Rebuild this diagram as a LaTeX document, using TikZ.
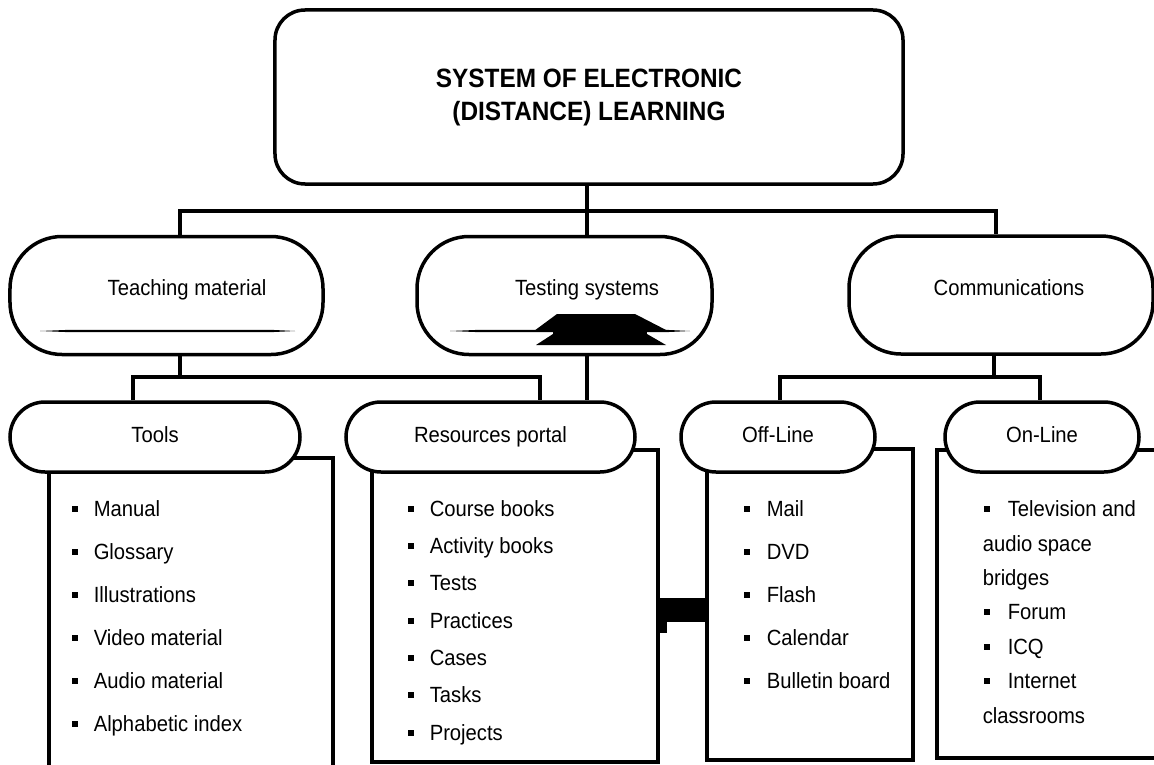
\documentclass[tikz,border=0pt]{standalone}
\usepackage{fontspec}
\setmainfont{Liberation Sans}[FakeStretch=0.92]
\newcommand{\blt}{\rule[4.5bp]{6bp}{6bp}}
\begin{document}
\begin{tikzpicture}[x=1bp,y=-1bp,line width=3.5bp,line join=miter,
  txt/.style={font=\fontsize{22bp}{26bp}\selectfont},
  lvtwo/.style={draw,fill=white,rounded corners=52bp,inner sep=0pt,minimum height=118bp},
  stad/.style={draw,fill=white,rounded corners=35bp,inner sep=0pt,minimum height=70bp,txt,text height=16bp,text depth=6bp},
  listbox/.style={draw,fill=white,inner sep=0pt},
  item/.style={anchor=base west,inner sep=0pt,txt},
  lbl/.style={inner sep=0pt,txt}]
\useasboundingbox (0,0) rectangle (1154,765);

% top box
\node[draw,fill=white,rounded corners=30bp,inner sep=0pt,minimum width=628bp,minimum height=174bp,
  align=center,font=\fontsize{26.5bp}{33bp}\selectfont\bfseries] (top) at (589,97)
  {SYSTEM OF ELECTRONIC\\(DISTANCE) LEARNING};

% level 2
\node[lvtwo,minimum width=313bp] (tm) at (166.5,295.5) {};
\node[lvtwo,minimum width=295bp] (ts) at (564.5,295.5) {};
\node[lvtwo,minimum width=304bp] (co) at (1001,295) {};
\node[lbl] (tmt) at (187,290) {Teaching material};
\node[lbl] (tst) at (587,290) {Testing systems};
\node[lbl] (cot) at (1009,288) {Communications};

% decorations inside level 2 boxes
\fill (40,331) -- (70,329.8) -- (270,329.8) -- (295,331) -- (270,332.2) -- (70,332.2) -- cycle;
\fill (450,331) -- (480,329.8) -- (665,329.8) -- (690,331) -- (665,332.2) -- (480,332.2) -- cycle;
\fill (557,314) -- (635,314) -- (668,331) -- (534,331) -- cycle;
\fill (553,330) rectangle (647,335);
\fill (553,334) -- (647,334) -- (666,345) -- (536,345) -- cycle;

% list boxes
\node[listbox,minimum width=284bp,minimum height=317bp] (toolsl) at (191,616.5) {};
\node[listbox,minimum width=286bp,minimum height=312bp] (resl) at (515,606) {};
\node[listbox,minimum width=206bp,minimum height=311bp] (offl) at (810,604.5) {};
\node[listbox,minimum width=228bp,minimum height=308bp] (onl) at (1051,604) {};

% level 3 stadiums
\node[stad,minimum width=290bp] (tools) at (155,437) {Tools};
\node[stad,minimum width=289bp] (res) at (490.5,437) {Resources portal};
\node[stad,minimum width=194bp] (off) at (778,437) {Off-Line};
\node[stad,minimum width=194bp] (on) at (1042,437) {On-Line};

% connector junctions
\coordinate (j0) at (587,211);
\coordinate (j1) at (180,211);
\coordinate (j2) at (996,211);
\coordinate (j3) at (180,377);
\coordinate (j4) at (133,377);
\coordinate (j5) at (540,377);
\coordinate (j6) at (994,377);
\coordinate (j7) at (780,377);
\coordinate (j8) at (1040,377);
\coordinate (c1) at (0,610);

\draw (top.south -| j0) -- (j0);
\draw (tm.north -| j1) -- (j1) -- (j2) -- (co.north -| j2);
\draw (j0) -- (ts.north -| j0);
\draw (tm.south -| j3) -- (j3);
\draw (tools.north -| j4) -- (j4) -- (j5) -- (res.north -| j5);
\draw (ts.south -| j0) -- (res.north -| j0);
\draw (co.south -| j6) -- (j6);
\draw (off.north -| j7) -- (j7) -- (j8) -- (on.north -| j8);
\draw[line width=24bp,line cap=butt] (resl.east |- c1) -- (offl.west |- c1);
\fill (658,620) rectangle (667,633);

% Tools items
\node[item] (a1) at (70,516) {\blt\hspace{16bp}Manual};
\node[item] (a2) at (70,559) {\blt\hspace{16bp}Glossary};
\node[item] (a3) at (70,602) {\blt\hspace{16bp}Illustrations};
\node[item] (a4) at (70,645) {\blt\hspace{16bp}Video material};
\node[item] (a5) at (70,688) {\blt\hspace{16bp}Audio material};
\node[item] (a6) at (70,731) {\blt\hspace{16bp}Alphabetic index};

% Resources items
\node[item] (b1) at (406,516) {\blt\hspace{16bp}Course books};
\node[item] (b2) at (406,553) {\blt\hspace{16bp}Activity books};
\node[item] (b3) at (406,590) {\blt\hspace{16bp}Tests};
\node[item] (b4) at (406,628) {\blt\hspace{16bp}Practices};
\node[item] (b5) at (406,665) {\blt\hspace{16bp}Cases};
\node[item] (b6) at (406,702) {\blt\hspace{16bp}Tasks};
\node[item] (b7) at (406,740) {\blt\hspace{16bp}Projects};

% Off-Line items
\node[item] (c1n) at (742,516) {\blt\hspace{17bp}Mail};
\node[item] (c2n) at (742,559) {\blt\hspace{17bp}DVD};
\node[item] (c3n) at (742,602) {\blt\hspace{17bp}Flash};
\node[item] (c4n) at (742,645) {\blt\hspace{17bp}Calendar};
\node[item] (c5n) at (742,688) {\blt\hspace{17bp}Bulletin board};

% On-Line items
\node[item] (d1) at (982,516) {\blt\hspace{18bp}Television and};
\node[item] (d2) at (981,551) {audio space};
\node[item] (d3) at (981,585) {bridges};
\node[item] (d4) at (982,619) {\blt\hspace{18bp}Forum};
\node[item] (d5) at (982,654) {\blt\hspace{18bp}ICQ};
\node[item] (d6) at (982,688) {\blt\hspace{18bp}Internet};
\node[item] (d7) at (981,723) {classrooms};
\end{tikzpicture}
\end{document}
